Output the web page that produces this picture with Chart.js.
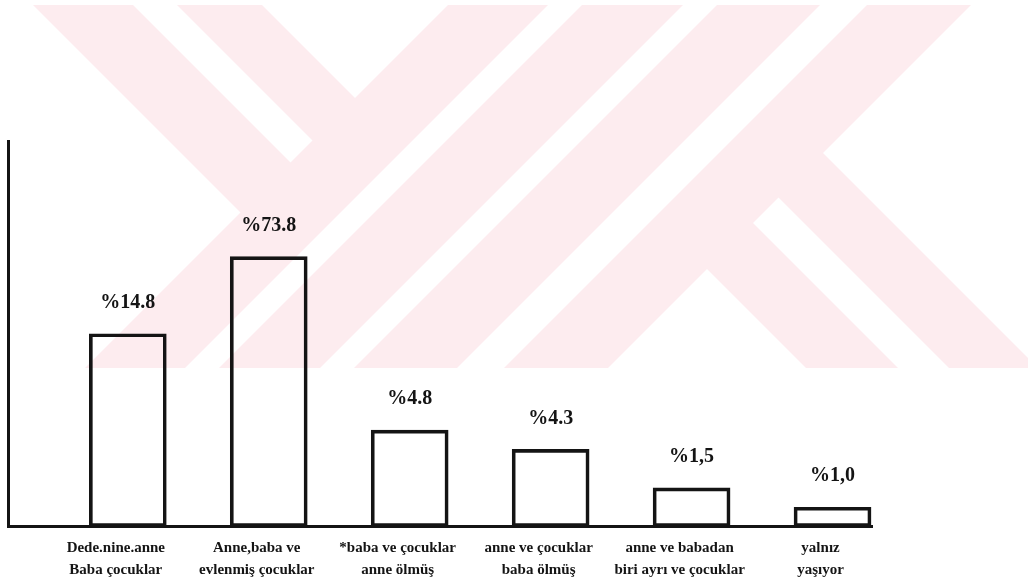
<!DOCTYPE html>
<html>
<head>
<meta charset="utf-8">
<script src="https://cdn.jsdelivr.net/npm/chart.js@4"></script>
<style>
  html, body { margin: 0; padding: 0; background: #fff; }
  #wrap { width: 1028px; height: 584px; position: relative; }
</style>
</head>
<body>
<div id="wrap"><canvas id="barChart"></canvas></div>
<script>
// category labels, two lines each as printed under the bars
const categories = [
    ['Dede.nine.anne', 'Baba çocuklar'],
    ['Anne,baba ve', 'evlenmiş çocuklar'],
    ['*baba ve çocuklar', 'anne ölmüş'],
    ['anne ve çocuklar', 'baba ölmüş'],
    ['anne ve babadan', 'biri ayrı ve çocuklar'],
    ['yalnız', 'yaşıyor']
];

// bar heights as drawn on the page (axis runs 0..100)
const barHeights = [50, 70, 25, 20, 10, 5];

// percentages printed above the bars
const percentLabels = ['%14.8', '%73.8', '%4.8', '%4.3', '%1,5', '%1,0'];

const ink = '#141414';

// pale scanned watermark behind the chart
const watermark = {
    id: 'watermark',
    beforeDraw(chart) {
        const ctx = chart.ctx;
        ctx.save();
        ctx.beginPath();
        ctx.rect(0, 5, chart.width, 363);
        ctx.clip();
        ctx.fillStyle = '#fdecef';

        // "/" stripes
        [[453, 553], [587, 688], [722, 825], [872, 976]].forEach(([a, b]) => {
            ctx.beginPath();
            ctx.moveTo(a, 0); ctx.lineTo(b, 0);
            ctx.lineTo(b - 700, 700); ctx.lineTo(a - 700, 700);
            ctx.closePath();
            ctx.fill();
        });

        // "\" stripes, each cut by a half plane
        const back = (a, b, cut) => {
            ctx.save();
            ctx.beginPath();
            cut.forEach(([x, y], i) => i ? ctx.lineTo(x, y) : ctx.moveTo(x, y));
            ctx.closePath();
            ctx.clip();
            ctx.beginPath();
            ctx.moveTo(a, 0); ctx.lineTo(b, 0);
            ctx.lineTo(b + 700, 700); ctx.lineTo(a + 700, 700);
            ctx.closePath();
            ctx.fill();
            ctx.restore();
        };
        const upperLeft = [[0, 0], [500, 0], [0, 500]];
        const lowerRight = [[975, 0], [1200, 0], [1200, 700], [275, 700]];
        back(28, 128, upperLeft);
        back(172, 257, upperLeft);
        back(438, 530, lowerRight);
        back(581, 670, lowerRight);

        ctx.restore();
    }
};

// percentage text over each bar
const valueLabels = {
    id: 'valueLabels',
    afterDatasetsDraw(chart) {
        const ctx = chart.ctx;
        const meta = chart.getDatasetMeta(0);
        ctx.save();
        ctx.fillStyle = ink;
        ctx.font = 'bold 20px "Liberation Serif"';
        ctx.textAlign = 'center';
        ctx.textBaseline = 'middle';
        meta.data.forEach((bar, i) => {
            ctx.fillText(percentLabels[i], bar.x, bar.y - 31);
        });
        ctx.restore();
    }
};

const ctx = document.getElementById('barChart').getContext('2d');
new Chart(ctx, {
    type: 'bar',
    data: {
        datasets: [{
            data: barHeights.map((v, i) => ({ x: i, y: v })),
            backgroundColor: 'rgba(0,0,0,0)',
            borderColor: ink,
            borderWidth: 3,
            borderSkipped: false,
            barThickness: 77
        }]
    },
    options: {
        responsive: true,
        maintainAspectRatio: false,
        animation: false,
        layout: { padding: { left: 8, right: 156, top: 141, bottom: -8 } },
        plugins: {
            legend: { display: false },
            tooltip: { enabled: false }
        },
        scales: {
            x: {
                type: 'linear',
                offset: false,
                min: -0.85,
                max: 5.28,
                grid: { display: false, drawTicks: false },
                border: { color: ink, width: 3 },
                afterBuildTicks: s => { s.ticks = categories.map((_, i) => ({ value: i })); },
                ticks: {
                    callback: v => categories[v],
                    autoSkip: false,
                    maxRotation: 0,
                    color: ink,
                    padding: 11,
                    labelOffset: -12,
                    font: { family: 'Liberation Serif', size: 15, weight: 'bold', lineHeight: 1.45 }
                }
            },
            y: {
                min: 0,
                max: 100,
                ticks: { display: false },
                grid: { display: false, drawTicks: false },
                border: { color: ink, width: 3 }
            }
        }
    },
    plugins: [watermark, valueLabels]
});
</script>
</body>
</html>
